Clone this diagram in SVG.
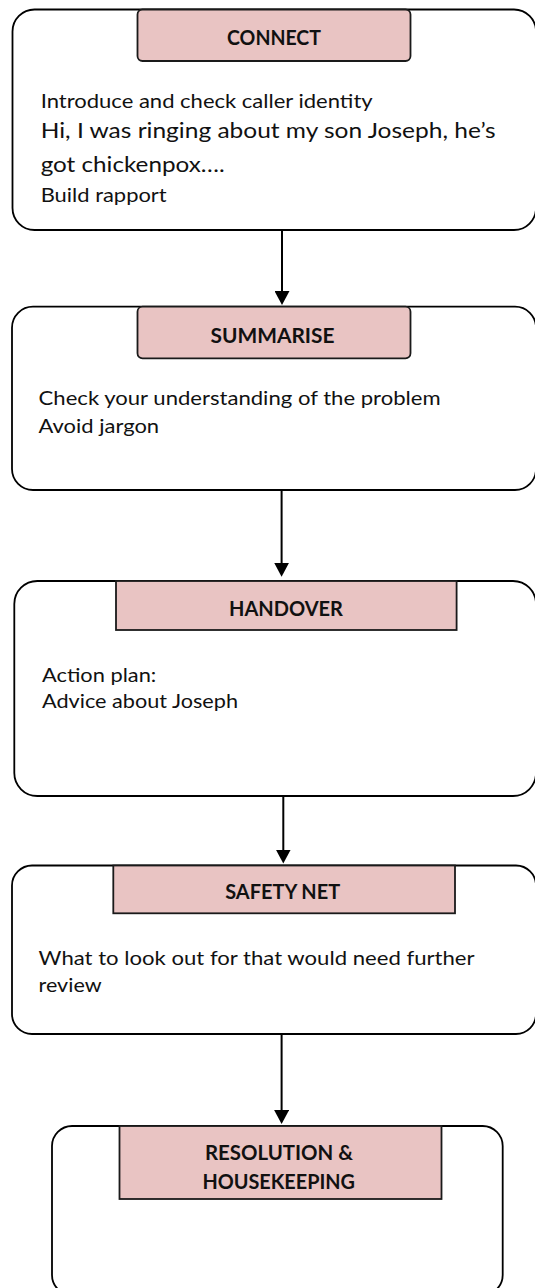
<svg xmlns="http://www.w3.org/2000/svg" width="535" height="1288" viewBox="0 0 535 1288">
<style>
  .outer { fill: #ffffff; stroke: #000000; stroke-width: 1.8; }
  .hdr { fill: #E9C4C3; stroke: #1a1a1a; stroke-width: 1.8; }
  .ht { font-family: Lato, "Liberation Sans", sans-serif; font-weight: bold; font-size: 20px; fill: #111111; text-anchor: middle; }
  .bt { font-family: Lato, "Liberation Sans", sans-serif; font-size: 19.3px; fill: #111111; }
  .bt2 { font-family: Lato, "Liberation Sans", sans-serif; font-size: 20.8px; fill: #111111; }
  .conn { fill: none; stroke: #000000; stroke-width: 2; }
</style>
<defs>
  <marker id="arrow" viewBox="0 0 14 15" markerUnits="userSpaceOnUse" markerWidth="14" markerHeight="15" refX="6" refY="7.5" orient="auto">
    <path d="M0,0 L14,7.5 L0,15 Z" fill="#000000"/>
  </marker>
</defs>
<rect width="535" height="1288" fill="#ffffff"/>

<g id="connectors">
  <path class="conn" d="M282,230 L282,297" marker-end="url(#arrow)"/>
  <path class="conn" d="M281.6,490 L281.6,568.7" marker-end="url(#arrow)"/>
  <path class="conn" d="M283.3,796 L283.3,855.5" marker-end="url(#arrow)"/>
  <path class="conn" d="M281.6,1033 L281.6,1116" marker-end="url(#arrow)"/>
</g>

<g id="connect">
  <rect class="outer" x="12.5" y="9.5" width="523.5" height="220.5" rx="22" ry="22"/>
  <rect class="hdr" x="137.5" y="9.5" width="273" height="51.5" rx="5" ry="5"/>
  <text class="ht" x="274" y="45" textLength="94" lengthAdjust="spacingAndGlyphs">CONNECT</text>
  <text class="bt" x="40.7" y="108" textLength="332" lengthAdjust="spacingAndGlyphs">Introduce and check caller identity</text>
  <text class="bt2" x="40.7" y="138" textLength="455" lengthAdjust="spacingAndGlyphs">Hi, I was ringing about my son Joseph, he’s</text>
  <text class="bt2" x="40.7" y="171.7" textLength="184" lengthAdjust="spacingAndGlyphs">got chickenpox….</text>
  <text class="bt" x="40.7" y="202.3" textLength="126" lengthAdjust="spacingAndGlyphs">Build rapport</text>
</g>

<g id="summarise">
  <rect class="outer" x="12" y="306.7" width="524" height="183.3" rx="21" ry="21"/>
  <rect class="hdr" x="137.5" y="306.7" width="273" height="51.6" rx="5" ry="5"/>
  <text class="ht" x="272.5" y="343.3" textLength="124" lengthAdjust="spacingAndGlyphs">SUMMARISE</text>
  <text class="bt" x="38.6" y="405" textLength="402" lengthAdjust="spacingAndGlyphs">Check your understanding of the problem</text>
  <text class="bt" x="38.6" y="433.3" textLength="120.5" lengthAdjust="spacingAndGlyphs">Avoid jargon</text>
</g>

<g id="handover">
  <rect class="outer" x="14.3" y="581" width="521.7" height="215" rx="23" ry="23"/>
  <rect class="hdr" x="116" y="581" width="340.6" height="49"/>
  <text class="ht" x="286" y="615.7" textLength="114" lengthAdjust="spacingAndGlyphs">HANDOVER</text>
  <text class="bt" x="42" y="681.7" textLength="114.3" lengthAdjust="spacingAndGlyphs">Action plan:</text>
  <text class="bt" x="42" y="708.3" textLength="196" lengthAdjust="spacingAndGlyphs">Advice about Joseph</text>
</g>

<g id="safety-net">
  <rect class="outer" x="12" y="865.5" width="524" height="168.5" rx="20" ry="20"/>
  <rect class="hdr" x="113.3" y="865.5" width="341.7" height="47.8"/>
  <text class="ht" x="282.7" y="899.3" textLength="115" lengthAdjust="spacingAndGlyphs">SAFETY NET</text>
  <text class="bt" x="38.6" y="965" textLength="436" lengthAdjust="spacingAndGlyphs">What to look out for that would need further</text>
  <text class="bt" x="38.6" y="991.7" textLength="63" lengthAdjust="spacingAndGlyphs">review</text>
</g>

<g id="resolution">
  <rect class="outer" x="52" y="1126" width="450.7" height="169" rx="20" ry="20"/>
  <rect class="hdr" x="119.5" y="1126" width="322" height="73"/>
  <text class="ht" x="279" y="1160" textLength="148" lengthAdjust="spacingAndGlyphs">RESOLUTION &amp;</text>
  <text class="ht" x="278.7" y="1189.3" textLength="152.6" lengthAdjust="spacingAndGlyphs">HOUSEKEEPING</text>
</g>
</svg>
